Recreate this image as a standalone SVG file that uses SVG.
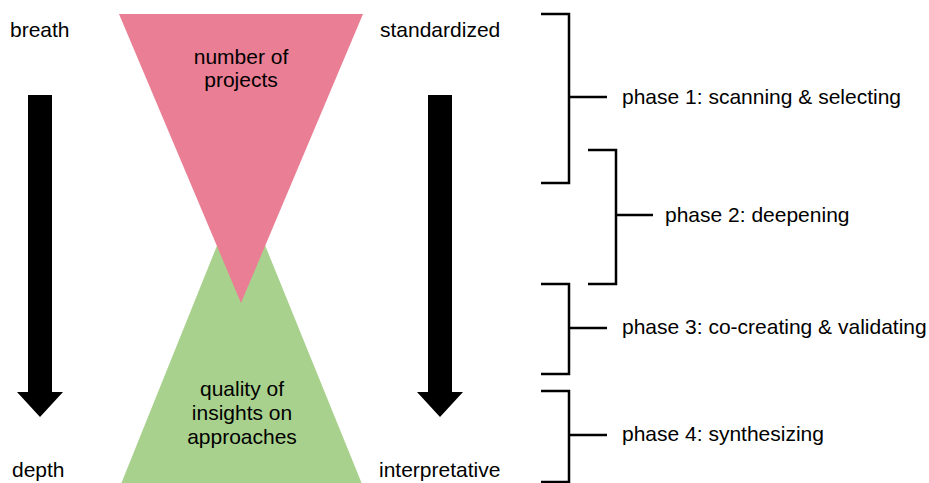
<svg xmlns="http://www.w3.org/2000/svg" width="929" height="483" viewBox="0 0 929 483">
<style>
text{font-family:"Liberation Sans",Arial,sans-serif;font-size:21px;fill:#000}
.c{text-anchor:middle}
.br{fill:none;stroke:#000;stroke-width:2.5}
</style>
<rect width="929" height="483" fill="#fff"/>
<g id="green-triangle">
<polygon points="241,186 121,484 362,484" fill="#A9D18E"/>
<text class="c" x="242" y="396">quality of</text>
<text class="c" x="242" y="420">insights on</text>
<text class="c" x="242" y="444">approaches</text>
</g>
<g id="pink-triangle">
<polygon points="119,14 363,14 241,303" fill="#EA7E94"/>
<text class="c" x="241" y="64">number of</text>
<text class="c" x="241" y="87">projects</text>
</g>
<g id="left-axis">
<text x="10" y="37">breath</text>
<text x="12" y="477">depth</text>
<polygon points="28,95 52,95 52,392 63,392 40,417 17,392 28,392" fill="#000"/>
</g>
<g id="right-axis">
<text x="380" y="37">standardized</text>
<text x="379" y="477">interpretative</text>
<polygon points="428,95 452,95 452,392 463,392 440,417 417,392 428,392" fill="#000"/>
</g>
<g id="connectors">
<path class="br" d="M541,14 H569 V183 H541 M569,97 H607"/>
<path class="br" d="M588,150 H616 V284 H588 M616,215 H653"/>
<path class="br" d="M541,284 H569 V374 H541 M569,328 H607"/>
<path class="br" d="M541,391 H569 V482 H541 M569,435 H607"/>
</g>
<g id="phase1"><text x="622" y="104">phase 1: scanning &amp; selecting</text></g>
<g id="phase2"><text x="665" y="222">phase 2: deepening</text></g>
<g id="phase3"><text x="622" y="334">phase 3: co-creating &amp; validating</text></g>
<g id="phase4"><text x="622" y="441">phase 4: synthesizing</text></g>
</svg>
